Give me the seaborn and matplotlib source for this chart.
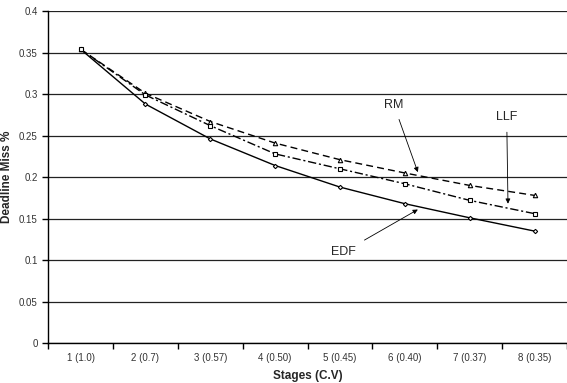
import matplotlib
matplotlib.use("Agg")
from matplotlib import pyplot as plt
import pandas as pd
import seaborn as sns
import numpy as np

# data
stages = ["1 (1.0)", "2 (0.7)", "3 (0.57)", "4 (0.50)",
          "5 (0.45)", "6 (0.40)", "7 (0.37)", "8 (0.35)"]
edf = [0.354, 0.288, 0.246, 0.214, 0.188, 0.168, 0.151, 0.135]
rm = [0.354, 0.301, 0.267, 0.241, 0.221, 0.205, 0.190, 0.178]
llf = [0.354, 0.299, 0.262, 0.228, 0.210, 0.192, 0.172, 0.156]

pos = np.arange(len(stages))
df = pd.DataFrame({
    "pos": np.tile(pos, 3),
    "miss": edf + rm + llf,
    "algo": ["EDF"] * 8 + ["RM"] * 8 + ["LLF"] * 8,
})

sns.set_style("white")
plt.rcParams["font.family"] = ["Liberation Sans", "DejaVu Sans"]

fig = plt.figure(figsize=(5.67, 3.83), dpi=100)
ax = fig.add_axes([0.085, 0.104, 0.915, 0.867])

styles = {
    "EDF": dict(linestyle="-", marker="D", markersize=2.2),
    "RM": dict(linestyle=(0, (5, 3)), marker="^", markersize=3.2),
    "LLF": dict(linestyle=(0, (6, 2, 1.5, 2)), marker="s", markersize=3.2),
}
for name, st in styles.items():
    sub = df[df["algo"] == name]
    sns.lineplot(data=sub, x="pos", y="miss", ax=ax, color="black",
                 linewidth=1.0, markerfacecolor="white",
                 markeredgecolor="black", markeredgewidth=0.8,
                 linestyle=st["linestyle"], marker=st["marker"],
                 markersize=st["markersize"], legend=False)

ax.set_xlim(-0.5, 7.5)
ax.set_ylim(0, 0.4)
ax.set_yticks(np.arange(0, 0.401, 0.05))
ax.set_yticklabels(["0", "0.05", "0.1", "0.15", "0.2", "0.25", "0.3",
                    "0.35", "0.4"])
ax.yaxis.grid(True, color="#222222", linewidth=0.9)
ax.set_axisbelow(True)

ax.set_xticks(np.arange(-0.5, 8.0, 1.0))
ax.set_xticklabels([])
ax.set_xticks(pos, minor=True)
ax.set_xticklabels(stages, minor=True)
ax.tick_params(axis="x", which="major", direction="out", length=4,
               width=1, color="black", bottom=True)
ax.tick_params(axis="x", which="minor", length=0, labelsize=7, pad=7,
               labelcolor="#333333")
ax.tick_params(axis="y", direction="out", length=4, width=1,
               color="black", left=True, labelsize=7, labelcolor="#333333")

for s in ["top", "right"]:
    ax.spines[s].set_visible(False)
for s in ["left", "bottom"]:
    ax.spines[s].set_color("black")
    ax.spines[s].set_linewidth(1.0)

ax.set_xlabel("Stages (C.V)", fontsize=8.5, fontweight="bold", labelpad=5)
ax.set_ylabel("Deadline Miss %", fontsize=8.5, fontweight="bold")

arrow = dict(arrowstyle="-|>", color="black", lw=0.6, mutation_scale=7,
             shrinkA=4, shrinkB=0)
ax.annotate("RM", xy=(5.2, 0.206), xytext=(4.83, 0.287), fontsize=9,
            ha="center", va="center", arrowprops=arrow)
ax.annotate("LLF", xy=(6.59, 0.168), xytext=(6.57, 0.272), fontsize=9,
            ha="center", va="center", arrowprops=arrow)
ax.annotate("EDF", xy=(5.2, 0.161), xytext=(4.06, 0.110), fontsize=9,
            ha="center", va="center", arrowprops=arrow)

fig.savefig("out.png", dpi=100)
